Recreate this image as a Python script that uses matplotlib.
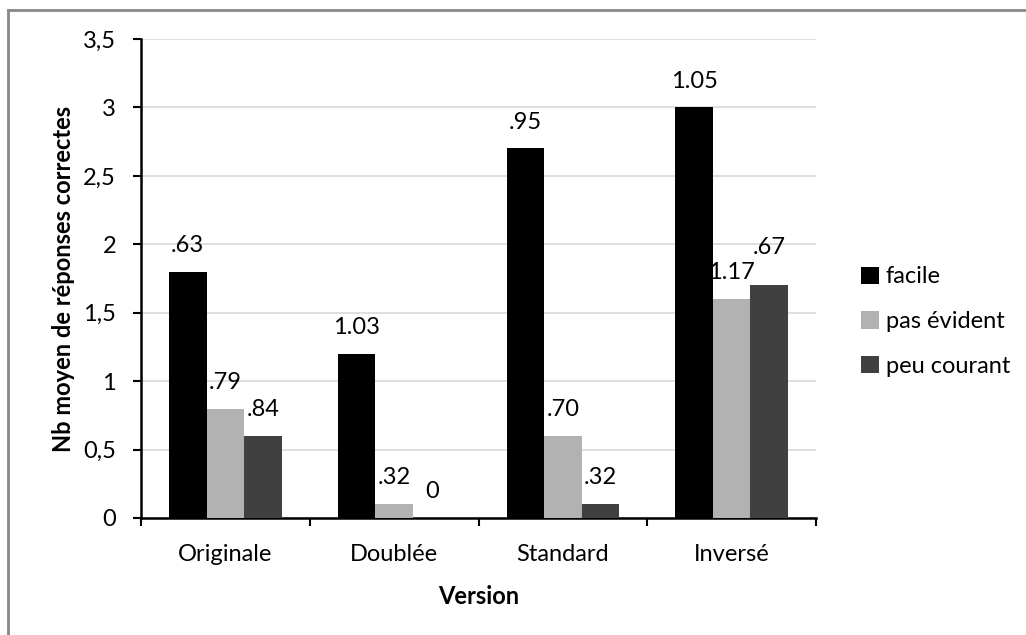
import numpy as np
from matplotlib import pyplot as plt
from matplotlib.lines import Line2D

versions = ['Originale', 'Doublée', 'Standard', 'Inversé']
series = ['facile', 'pas évident', 'peu courant']
facile = [1.8, 1.2, 2.7, 3.0]
pas_evident = [0.8, 0.1, 0.6, 1.6]
peu_courant = [0.6, 0.0, 0.1, 1.7]
labels_facile = ['.63', '1.03', '.95', '1.05']
labels_pas_evident = ['.79', '.32', '.70', '1.17']
labels_peu_courant = ['.84', '0', '.32', '.67']

COLORS = ['#000000', '#b2b2b2', '#404040']
W, H = 1026, 635
FS = 17

plt.rcParams['font.family'] = ['Lato', 'DejaVu Sans']
fig = plt.figure(figsize=(W / 100, H / 100), dpi=100)
ax = fig.add_axes([141 / W, 1 - 518 / H, (816 - 141) / W, (518 - 39) / H])

x = np.arange(len(versions))
width = 2 / 9
values = [facile, pas_evident, peu_courant]
texts = [labels_facile, labels_pas_evident, labels_peu_courant]
for k, (vals, labs, name) in enumerate(zip(values, texts, series)):
    pos = x + (k - 1) * width
    ax.bar(pos, vals, width, color=COLORS[k], label=name, zorder=3)
    for i, (px, v, t) in enumerate(zip(pos, vals, labs)):
        # the .67 label sits higher in the original to avoid 1.17
        extra = 8 if (k == 2 and i == 3) else 0
        ax.annotate(t, (px, v), xytext=(0, 19 + extra), textcoords='offset points',
                    ha='center', va='center', fontsize=FS)

ax.set_xlim(-0.5, 3.5)
ax.set_ylim(0, 3.5)
ax.set_yticks(np.arange(0, 3.51, 0.5))
ax.set_yticklabels(['0', '0,5', '1', '1,5', '2', '2,5', '3', '3,5'], fontsize=FS)
ax.yaxis.grid(True, color='#d9d9d9', linewidth=1.2, zorder=0)
ax.set_axisbelow(True)

ax.set_xticks(x)
ax.set_xticklabels(versions, fontsize=FS)
ax.tick_params(axis='x', length=0, pad=19)
ax.set_xticks(np.arange(-0.5, 4, 1), minor=True)
ax.tick_params(axis='x', which='minor', length=6, width=1.5, direction='out')
ax.tick_params(axis='y', length=6, width=1.5, direction='out', pad=12)

for s in ['top', 'right']:
    ax.spines[s].set_visible(False)
for s in ['left', 'bottom']:
    ax.spines[s].set_linewidth(1.8)

ax.set_ylabel('Nb moyen de réponses correctes', fontsize=FS, fontweight='bold', labelpad=6)
ax.set_xlabel('Version', fontsize=FS, fontweight='bold', labelpad=14)

ax.legend(loc='center left', bbox_to_anchor=(1.035, 0.41), frameon=False, fontsize=FS,
          handlelength=0.75, handleheight=0.75, handletextpad=0.3, labelspacing=1.0)

# partial outer border of the chart frame
fig.add_artist(Line2D([8 / W, 8 / W], [0, 1 - 10 / H], color='#888888', linewidth=2))
fig.add_artist(Line2D([8 / W, 1], [1 - 10 / H, 1 - 10 / H], color='#888888', linewidth=2))

fig.savefig('out.png', dpi=100)
